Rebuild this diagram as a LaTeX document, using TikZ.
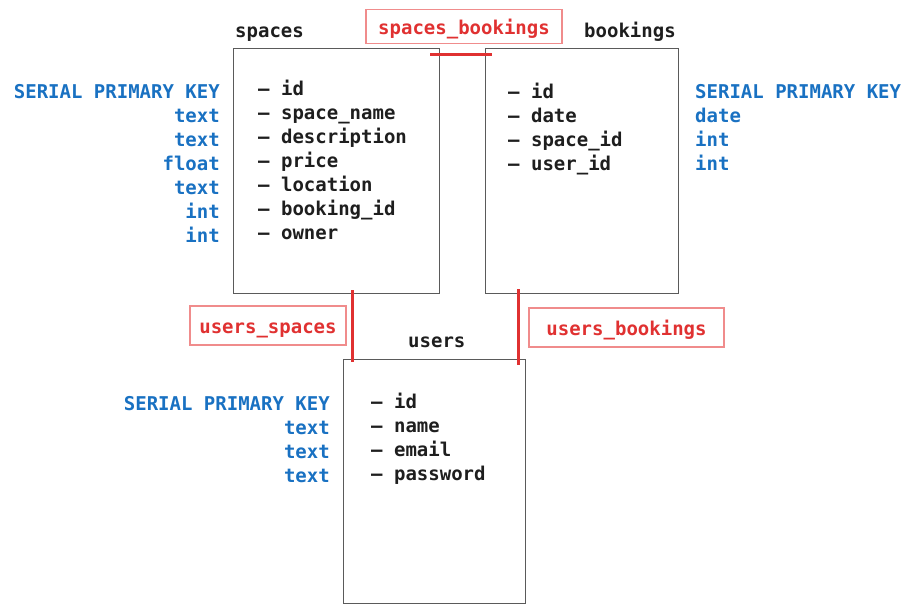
\documentclass[tikz,border=0pt]{standalone}
\usepackage{fontspec}
\setmainfont{DejaVu Sans Mono}
\definecolor{ink}{HTML}{1E1E1E}
\definecolor{typeblue}{HTML}{1971C2}
\definecolor{relred}{HTML}{E03131}
\definecolor{relpink}{HTML}{F08C8C}
\definecolor{boxgray}{HTML}{5A5A5A}
\tikzset{
	tablebox/.style={draw=boxgray, line width=1.3pt, inner sep=0pt, anchor=north west},
	tabletitle/.style={text=ink, inner sep=0pt, anchor=base west},
	field/.style={text=ink, inner sep=0pt, anchor=base west},
	typeleft/.style={text=typeblue, inner sep=0pt, anchor=base west},
	typeright/.style={text=typeblue, inner sep=0pt, anchor=base east},
	relbox/.style={draw=relpink, line width=1.2pt, text=relred, inner sep=0pt, text height=16pt, text depth=0pt},
	relline/.style={draw=relred, line width=3pt}
}

\begin{document}
\begin{tikzpicture}[x=1pt, y=-1pt, font=\fontsize{19}{22}\selectfont\bfseries]
	\useasboundingbox (0,0) rectangle (915,614);

	\begin{scope}
	\node[tablebox, minimum width=206pt, minimum height=245pt] (spaces) at (233,48) {};
	\node[tabletitle] (spacesTitle) at (235,37) {spaces};
	\node[field] (spId) at (258,95) {\textendash{} id};
	\node[field] (spName) at (258,119) {\textendash{} space\_name};
	\node[field] (spDesc) at (258,143) {\textendash{} description};
	\node[field] (spPrice) at (258,167) {\textendash{} price};
	\node[field] (spLoc) at (258,191) {\textendash{} location};
	\node[field] (spBooking) at (258,215) {\textendash{} booking\_id};
	\node[field] (spOwner) at (258,239) {\textendash{} owner};
	\node[typeright] (spIdType) at (220,98) {SERIAL PRIMARY KEY};
	\node[typeright] (spNameType) at (220,122) {text};
	\node[typeright] (spDescType) at (220,146) {text};
	\node[typeright] (spPriceType) at (220,170) {float};
	\node[typeright] (spLocType) at (220,194) {text};
	\node[typeright] (spBookingType) at (220,218) {int};
	\node[typeright] (spOwnerType) at (220,242) {int};
	\end{scope}

	\begin{scope}
	\node[tablebox, minimum width=193pt, minimum height=245pt] (bookings) at (485,48) {};
	\node[tabletitle] (bookingsTitle) at (584,37) {bookings};
	\node[field] (bkId) at (508,98) {\textendash{} id};
	\node[field] (bkDate) at (508,122) {\textendash{} date};
	\node[field] (bkSpace) at (508,146) {\textendash{} space\_id};
	\node[field] (bkUser) at (508,170) {\textendash{} user\_id};
	\node[typeleft] (bkIdType) at (695,98) {SERIAL PRIMARY KEY};
	\node[typeleft] (bkDateType) at (695,122) {date};
	\node[typeleft] (bkSpaceType) at (695,146) {int};
	\node[typeleft] (bkUserType) at (695,170) {int};
	\end{scope}

	\begin{scope}
	\node[tablebox, minimum width=182pt, minimum height=244pt] (users) at (343,359) {};
	\node[tabletitle] (usersTitle) at (408,347) {users};
	\node[field] (usId) at (371,408) {\textendash{} id};
	\node[field] (usName) at (371,432) {\textendash{} name};
	\node[field] (usEmail) at (371,456) {\textendash{} email};
	\node[field] (usPass) at (371,480) {\textendash{} password};
	\node[typeright] (usIdType) at (330,410) {SERIAL PRIMARY KEY};
	\node[typeright] (usNameType) at (330,434) {text};
	\node[typeright] (usEmailType) at (330,458) {text};
	\node[typeright] (usPassType) at (330,482) {text};
	\end{scope}

	\node[relbox, minimum width=196pt, minimum height=34pt] (spacesBookings) at (464,26.5) {spaces\_bookings};
	\node[relbox, minimum width=156pt, minimum height=39pt] (usersSpaces) at (268,325.5) {users\_spaces};
	\node[relbox, minimum width=195pt, minimum height=39pt] (usersBookings) at (626.5,327.5) {users\_bookings};

	\coordinate (sbLeft) at (430,54);
	\coordinate (sbRight) at (492,54);
	\coordinate (usTop) at (352,290);
	\coordinate (usBottom) at (352,362);
	\coordinate (ubTop) at (518,289);
	\coordinate (ubBottom) at (518,365);
	\draw[relline] (sbLeft) -- (sbRight);
	\draw[relline] (usTop) -- (usBottom);
	\draw[relline] (ubTop) -- (ubBottom);
\end{tikzpicture}
\end{document}
